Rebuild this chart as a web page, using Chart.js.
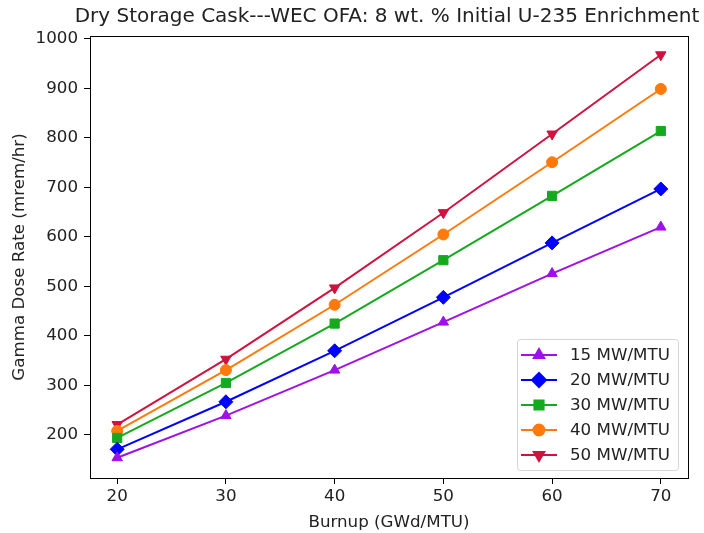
<!DOCTYPE html>
<html>
<head>
<meta charset="utf-8">
<script src="https://cdn.jsdelivr.net/npm/chart.js@4/dist/chart.umd.min.js"></script>
<style>
  html, body { margin: 0; padding: 0; background: #fff; }
  #wrap { width: 704px; height: 533px; }
</style>
</head>
<body>
<div id="wrap"><canvas id="doseChart" width="704" height="533"></canvas></div>
<script>
// Data
const burnup = [20, 30, 40, 50, 60, 70];
const rate15 = [154, 239, 331, 428, 526, 620];
const rate20 = [171, 267, 370, 478, 588, 697];
const rate30 = [194, 305, 425, 553, 683, 814];
const rate40 = [208, 331, 463, 605, 751, 899];
const rate50 = [221, 353, 497, 649, 808, 968];

const seriesLabels = ['15 MW/MTU', '20 MW/MTU', '30 MW/MTU', '40 MW/MTU', '50 MW/MTU'];
const xTicks = [20, 30, 40, 50, 60, 70];
const yTicks = [200, 300, 400, 500, 600, 700, 800, 900, 1000];
const chartTitle = 'Dry Storage Cask---WEC OFA: 8 wt. % Initial U-235 Enrichment';

const FONT = "'DejaVu Sans', sans-serif";
const TEXT = '#222';
const FS = 16.7;

// marker styles per series (like matplotlib ^ D s o v)
const styles = [
    { color: '#a010e8', point: 'triangle', radius: 6, rotation: 0 },
    { color: '#0000ff', point: 'rectRot', radius: 7, rotation: 0 },
    { color: '#15aa1d', point: 'rect', radius: 6.5, rotation: 0 },
    { color: '#ff7a0a', point: 'circle', radius: 5.5, rotation: 0 },
    { color: '#d0123f', point: 'triangle', radius: 6, rotation: 180 }
];
const allRates = [rate15, rate20, rate30, rate40, rate50];

function makeDatasets() {
    return allRates.map((rates, i) => ({
        label: seriesLabels[i],
        data: burnup.map((b, j) => ({ x: b, y: rates[j] })),
        borderColor: styles[i].color,
        backgroundColor: styles[i].color,
        borderWidth: 2,
        pointStyle: styles[i].point,
        pointRadius: styles[i].radius,
        pointRotation: styles[i].rotation,
        pointBorderWidth: 1,
        pointHoverRadius: styles[i].radius,
        tension: 0
    }));
}

// frame on all four sides + title centred over the axes, matplotlib style
const framePlugin = {
    id: 'frame',
    afterDatasetsDraw(chart) {
        const { ctx, chartArea } = chart;
        ctx.save();
        ctx.strokeStyle = '#000';
        ctx.lineWidth = 1;
        ctx.strokeRect(Math.round(chartArea.left) + 0.5, Math.round(chartArea.top) + 0.5,
            Math.round(chartArea.width), Math.round(chartArea.height));

        ctx.font = '20px ' + FONT;
        ctx.fillStyle = TEXT;
        ctx.textAlign = 'center';
        ctx.textBaseline = 'middle';
        ctx.fillText(chartTitle, (chartArea.left + chartArea.right) / 2 - 2, chartArea.top - 19);
        ctx.restore();
    }
};

// legend in the lower right corner of the plot, line + marker
const boxLegend = {
    id: 'boxLegend',
    afterDraw(chart) {
        const { ctx, chartArea } = chart;
        const w = 161, rowH = 25, h = rowH * seriesLabels.length + 6;
        const x0 = chartArea.right - 10 - w;
        const y0 = chartArea.bottom - 8 - h;
        ctx.save();
        ctx.globalAlpha = 0.8;
        ctx.fillStyle = '#fff';
        ctx.beginPath();
        ctx.roundRect(x0 + 0.5, y0 + 0.5, w, h, 3);
        ctx.fill();
        ctx.globalAlpha = 1;
        ctx.strokeStyle = '#d5d5d5';
        ctx.lineWidth = 1;
        ctx.stroke();

        ctx.font = FS + 'px ' + FONT;
        ctx.textBaseline = 'middle';
        seriesLabels.forEach((label, i) => {
            const cy = y0 + 16 + i * rowH;
            const st = styles[i];
            ctx.strokeStyle = st.color;
            ctx.lineWidth = 2;
            ctx.beginPath();
            ctx.moveTo(x0 + 4, cy);
            ctx.lineTo(x0 + 40, cy);
            ctx.stroke();
            ctx.fillStyle = st.color;
            Chart.helpers.drawPoint(ctx, {
                pointStyle: st.point,
                radius: st.radius,
                rotation: st.rotation,
                borderWidth: 1
            }, x0 + 22, cy);
            ctx.fill();
            ctx.fillStyle = TEXT;
            ctx.fillText(label, x0 + 53, cy + 1);
        });
        ctx.restore();
    }
};

const ctx = document.getElementById('doseChart').getContext('2d');
new Chart(ctx, {
    type: 'line',
    data: { datasets: makeDatasets() },
    plugins: [framePlugin, boxLegend],
    options: {
        responsive: false,
        animation: false,
        layout: { padding: { left: 0, right: 16, top: 36, bottom: 0 } },
        plugins: {
            legend: { display: false },
            tooltip: { enabled: false },
            title: { display: false }
        },
        scales: {
            x: {
                type: 'linear',
                min: 17.5,
                max: 72.5,
                afterBuildTicks: (scale) => { scale.ticks = xTicks.map(v => ({ value: v })); },
                afterFit: (scale) => { scale.height = 55; },
                grid: { display: true, drawOnChartArea: false, tickLength: 6, color: '#000' },
                border: { display: false },
                ticks: { color: TEXT, padding: 3, maxRotation: 0, font: { family: FONT, size: FS },
                    callback: (v) => String(v) },
                title: {
                    display: true,
                    text: 'Burnup (GWd/MTU)',
                    color: TEXT,
                    font: { family: FONT, size: FS, lineHeight: 1.2 },
                    padding: { top: 4, bottom: 0 }
                }
            },
            y: {
                min: 113,
                max: 1006,
                afterBuildTicks: (scale) => { scale.ticks = yTicks.map(v => ({ value: v })); },
                afterFit: (scale) => { scale.width = 90; },
                grid: { display: true, drawOnChartArea: false, tickLength: 6, color: '#000' },
                border: { display: false },
                ticks: { color: TEXT, padding: 6, font: { family: FONT, size: FS },
                    callback: (v) => String(v) },
                title: {
                    display: true,
                    text: 'Gamma Dose Rate (mrem/hr)',
                    color: TEXT,
                    font: { family: FONT, size: FS, lineHeight: 1.2 },
                    padding: { top: 10, bottom: 0 }
                }
            }
        }
    }
});
</script>
</body>
</html>
